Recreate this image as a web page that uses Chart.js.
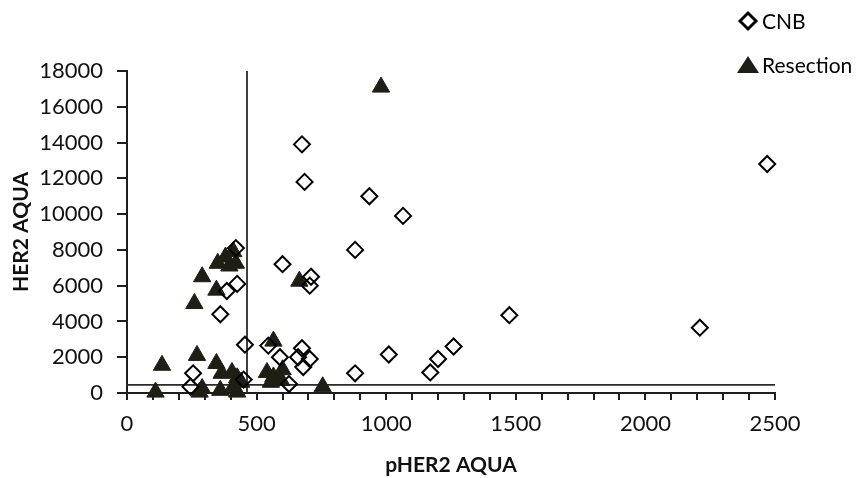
<!DOCTYPE html>
<html>
<head>
<meta charset="utf-8">
<script src="https://cdn.jsdelivr.net/npm/chart.js@4.4.3/dist/chart.umd.min.js"></script>
<style>
    html, body { margin: 0; padding: 0; background: #fff; }
    #wrap { width: 860px; height: 478px; }
</style>
</head>
<body>
<div id="wrap"><canvas id="chart" width="860" height="478"></canvas></div>
<script>
// values
const cnbPher2 = [675, 685, 935, 1065, 880, 2470, 1475, 2210, 420, 425, 385, 360, 455, 600, 710, 705,
    880, 255, 245, 545, 590, 675, 660, 705, 680, 625, 450, 1010, 1170, 1200, 1260];
const cnbHer2 = [13900, 11800, 11000, 9900, 8000, 12800, 4350, 3650, 8100, 6100, 5700, 4400, 2700, 7200, 6500, 6000,
    1100, 1100, 350, 2650, 2000, 2500, 2000, 1900, 1450, 500, 750, 2150, 1150, 1900, 2600];

const resPher2 = [980, 665, 290, 260, 345, 350, 380, 410, 420, 395, 135, 110, 270, 345, 365, 405,
    425, 440, 280, 290, 360, 425, 410, 565, 540, 565, 555, 600, 595, 755];
const resHer2 = [17100, 6250, 6500, 5000, 5750, 7250, 7600, 7900, 7250, 7100, 1550, 50, 2100, 1650, 1100, 1150,
    850, 600, 50, 250, 150, 50, 350, 2900, 1150, 900, 600, 1300, 700, 350];

const pher2Cutoff = 463;
const her2Cutoff = 450;

const xMax = 2500;
const yMax = 18000;

const legendLabels = ['CNB', 'Resection'];

const FONT = 'Lato, "Open Sans", sans-serif';
const INK = '#1e1e1e';
const TRI = '#1e1e14';

function toPoints(xs, ys) {
    return xs.map((x, i) => ({ x: x, y: ys[i] }));
}

const legendPlugin = {
    id: 'cornerLegend',
    afterDraw(chart) {
        const c = chart.ctx;
        c.save();
        // diamond
        c.strokeStyle = '#000';
        c.lineWidth = 3;
        c.beginPath();
        c.moveTo(748 - 8, 21);
        c.lineTo(748, 21 - 8);
        c.lineTo(748 + 8, 21);
        c.lineTo(748, 21 + 8);
        c.closePath();
        c.stroke();
        // triangle
        c.fillStyle = TRI;
        c.beginPath();
        c.moveTo(748, 56);
        c.lineTo(759, 73);
        c.lineTo(737, 73);
        c.closePath();
        c.fill();

        c.fillStyle = '#000';
        c.font = '21px ' + FONT;
        c.textBaseline = 'middle';
        c.fillText(legendLabels[0], 762, 22);
        c.fillText(legendLabels[1], 762, 66);
        c.restore();
    }
};

const ctx = document.querySelector('#chart');

new Chart(ctx, {
    type: 'scatter',
    data: {
        datasets: [
            {
                label: legendLabels[0],
                data: toPoints(cnbPher2, cnbHer2),
                pointStyle: 'rectRot',
                pointRadius: 8,
                pointBorderWidth: 2,
                borderColor: '#000',
                backgroundColor: 'rgba(0,0,0,0)',
                clip: false,
                order: 0
            },
            {
                label: legendLabels[1],
                data: toPoints(resPher2, resHer2),
                pointStyle: 'triangle',
                pointRadius: 10,
                pointBorderWidth: 1,
                borderColor: TRI,
                backgroundColor: TRI,
                clip: false,
                order: 1
            },
            {
                label: 'pHER2 cutoff',
                data: [{ x: pher2Cutoff, y: 0 }, { x: pher2Cutoff, y: yMax }],
                showLine: true,
                pointRadius: 0,
                borderColor: '#2a2a2a',
                borderWidth: 1.8,
                order: 2
            },
            {
                label: 'HER2 cutoff',
                data: [{ x: 0, y: her2Cutoff }, { x: xMax, y: her2Cutoff }],
                showLine: true,
                pointRadius: 0,
                borderColor: '#2a2a2a',
                borderWidth: 1.8,
                order: 2
            }
        ]
    },
    options: {
        responsive: false,
        animation: false,
        events: [],
        layout: { padding: { top: 71, right: 85, left: 0, bottom: 0 } },
        plugins: {
            legend: { display: false },
            tooltip: { enabled: false }
        },
        scales: {
            x: {
                type: 'linear',
                min: 0,
                max: xMax,
                afterFit: (scale) => { scale.height = 85; },
                border: { color: INK, width: 2 },
                grid: { drawOnChartArea: false, tickLength: 7, color: INK, lineWidth: 2 },
                ticks: {
                    stepSize: 100,
                    autoSkip: false,
                    maxRotation: 0,
                    padding: 11,
                    color: '#111',
                    font: { family: FONT, size: 22 },
                    callback: (v) => (v % 500 === 0 ? String(v) : '')
                },
                title: {
                    display: true,
                    text: 'pHER2 AQUA',
                    color: '#111',
                    font: { family: FONT, size: 21, weight: 'bold' },
                    padding: { top: 0, bottom: 0 }
                }
            },
            y: {
                type: 'linear',
                min: 0,
                max: yMax,
                afterFit: (scale) => { scale.width = 127; },
                border: { color: INK, width: 2 },
                grid: { drawOnChartArea: false, tickLength: 10, color: INK, lineWidth: 2 },
                ticks: {
                    stepSize: 2000,
                    padding: 14,
                    color: '#111',
                    font: { family: FONT, size: 22 },
                    callback: (v) => String(v)
                },
                title: {
                    display: true,
                    text: 'HER2 AQUA',
                    color: '#111',
                    font: { family: FONT, size: 21, weight: 'bold' },
                    padding: { top: 9, bottom: 0 }
                }
            }
        }
    },
    plugins: [legendPlugin]
});
</script>
</body>
</html>
